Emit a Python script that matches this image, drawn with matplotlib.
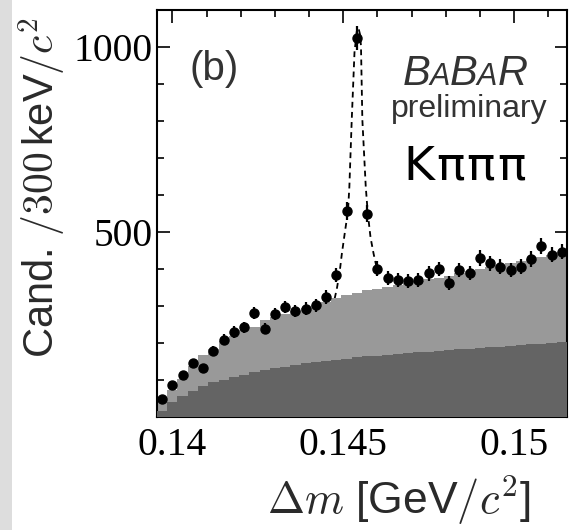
import numpy as np
import matplotlib
matplotlib.use("Agg")
import matplotlib.pyplot as plt
from matplotlib.patches import Rectangle
from matplotlib.ticker import MultipleLocator, FixedLocator

# ---------------- data ----------------
bin_low = 0.13955      # GeV/c^2, lower edge of first bin
bin_width = 0.0003     # 300 keV/c^2

counts = [50, 86, 114, 145, 132, 179, 209, 230, 242, 281,
          239, 279, 297, 286, 293, 302, 324, 384, 557, 1024,
          550, 401, 375, 371, 368, 371, 388, 400, 363, 397,
          389, 430, 415, 406, 397, 406, 427, 461, 439, 447]

bkg_total = [40, 73, 104, 138, 167, 185, 205, 220, 234, 244,
             262, 271, 279, 287, 295, 302, 312, 322, 330, 336,
             342, 347, 352, 357, 362, 367, 372, 377, 382, 388,
             394, 400, 406, 411, 416, 421, 427, 433, 439, 446]

bkg_comb = [17, 41, 57, 70, 84, 94, 101, 108, 114, 121,
            127, 132, 136, 141, 145, 149, 152, 155, 158, 161,
            164, 166, 168, 171, 173, 175, 177, 179, 181, 183,
            185, 187, 189, 190, 192, 194, 196, 198, 200, 202]

fit_x = [0.14475, 0.14482, 0.14490, 0.14496, 0.14505, 0.14514, 0.14518,
         0.14525, 0.14533, 0.14540, 0.14545, 0.14549, 0.14552, 0.14556,
         0.14566, 0.14572, 0.14580, 0.14589, 0.14600]
fit_y = [320, 350, 395, 441, 500, 557, 622, 804, 985, 1045, 1050, 1035,
         1003, 804, 622, 550, 485, 441, 395]

x_ticks = [0.14, 0.145, 0.15]
x_ticklabels = ["0.14", "0.145", "0.15"]
y_ticks = [500, 1000]
y_ticklabels = ["500", "1000"]

# ---------------- figure ----------------
plt.rcParams["font.family"] = ["Liberation Sans", "DejaVu Sans"]
plt.rcParams["mathtext.fontset"] = "cm"

W, H = 586, 530
fig = plt.figure(figsize=(W / 100, H / 100), dpi=100)
fig.patches.append(Rectangle((0, 0), 12 / W, 1, transform=fig.transFigure,
                             facecolor="#dddddd", edgecolor="none", zorder=0))

ax = fig.add_axes([157 / W, 1 - 417 / H, 410 / W, 407 / H])

edges = bin_low + bin_width * np.arange(len(counts) + 1)
centers = 0.5 * (edges[:-1] + edges[1:])

ax.plot(fit_x, fit_y, linestyle=(0, (3.2, 2.4)), color="black", lw=1.3, zorder=1)
ax.stairs(bkg_total, edges, fill=True, color="#999999", zorder=2)
ax.stairs(bkg_comb, edges, fill=True, color="#646464", zorder=3)
ax.errorbar(centers, counts, yerr=np.sqrt(counts), fmt="o", color="black",
            ms=6.5, elinewidth=1.6, capsize=0, zorder=5)

ax.set_xlim(edges[0], edges[-1])
ax.set_ylim(0, 1100)

ax.xaxis.set_major_locator(FixedLocator(x_ticks))
ax.xaxis.set_minor_locator(MultipleLocator(0.001))
ax.yaxis.set_major_locator(FixedLocator(y_ticks))
ax.yaxis.set_minor_locator(MultipleLocator(100))
ax.set_xticklabels(x_ticklabels, fontfamily="Liberation Serif", fontsize=28.5)
ax.set_yticklabels(y_ticklabels, fontfamily="Liberation Serif", fontsize=28.5)
ax.tick_params(which="both", direction="in", top=True, right=True, width=1.2, color="black")
ax.tick_params(which="major", length=9)
ax.tick_params(which="minor", length=5)
ax.tick_params(axis="x", which="major", pad=7)
ax.tick_params(axis="y", which="major", pad=3)
for s in ax.spines.values():
    s.set_linewidth(1.5)
    s.set_color("black")

# axis titles
fig.text(42 / W, 1 - 188 / H, r"Cand. $/300\,$keV$/c^2$", rotation=90,
         ha="center", va="center", fontsize=30, color="#2a2a2a")
fig.text(399 / W, 1 - 500 / H, r"$\Delta m$ [GeV$/c^2$]", ha="center",
         va="center", fontsize=32, color="#2a2a2a")

# annotations
fig.text(190 / W, 1 - 80 / H, "(b)", fontsize=29, color="#333333",
         ha="left", va="baseline")

renderer = fig.canvas.get_renderer()
x = 403.0
for s, size, kern in [("B", 30, -1), ("A", 22, 0), ("B", 30, -1), ("A", 22, 0), ("R", 30, 0)]:
    t = fig.text(x / W, 1 - 85 / H, s, fontsize=size, style="italic",
                 color="#333333", ha="left", va="baseline")
    bb = t.get_window_extent(renderer)
    x = bb.x1 + kern

fig.text(548 / W, 1 - 117 / H, "preliminary", fontsize=23, color="#333333",
         ha="right", va="baseline")

x = 403.0
for ch in "K\u03c0\u03c0\u03c0":
    t = fig.text(x / W, 1 - 180 / H, ch, fontsize=34, color="black",
                 ha="left", va="baseline", family=["DejaVu Sans"])
    bb = t.get_window_extent(renderer)
    x = bb.x1 + 2

fig.savefig("out.png", dpi=100)
